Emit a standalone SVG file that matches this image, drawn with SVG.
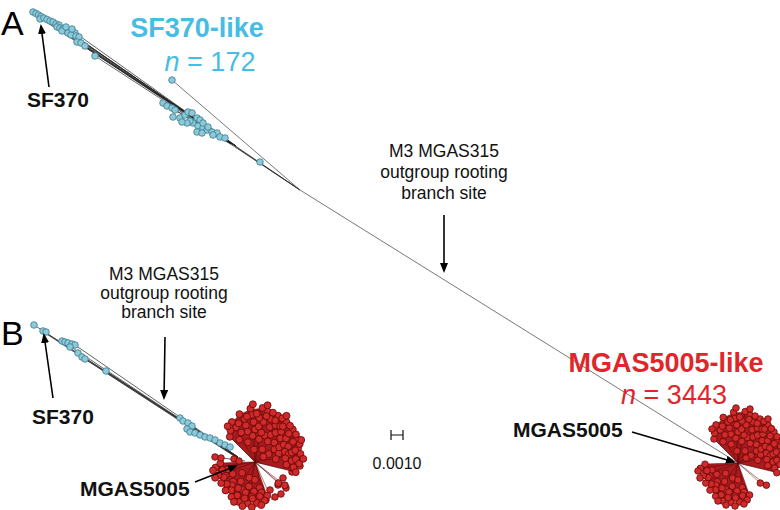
<svg xmlns="http://www.w3.org/2000/svg" width="780" height="510" viewBox="0 0 780 510">
<style>
text{font-family:"Liberation Sans",Arial,sans-serif}
.lbl{font-size:21px;font-weight:bold;fill:#111}
.note{font-size:17.5px;fill:#111;text-anchor:middle}
.panel{font-size:34px;fill:#000}
.blue{fill:#45bde4}
.red{fill:#e0262b}
.big{font-size:27px;text-anchor:middle}
.r{fill:#d02a2b;stroke:#650909;stroke-width:0.8}
.b{fill:#8ccadb;stroke:#3b7a8a;stroke-width:0.8}
.br{stroke:#222;stroke-width:0.7;fill:none}
.thin{stroke:#555;stroke-width:0.8;fill:none}
.arr{stroke:#000;stroke-width:1.6;fill:none;marker-end:url(#ah)}
.lobe{fill:#a81b1e;stroke:#7a0b0d;stroke-width:0.6}
.sp{stroke:#5c0808;stroke-width:0.5;fill:none}
</style>
<defs>
<marker id="ah" markerUnits="userSpaceOnUse" markerWidth="10" markerHeight="8" refX="8" refY="4" orient="auto"><path d="M0,0 L10,4 L0,8 z" fill="#000"/></marker>
<g id="cl">
<polygon class="lobe" points="0,0 -22,-22 -22,-37 -15,-45 -4,-50 7,-51 17,-46 26,-41 33,-34 39,-26 42,-17 43,-8 42,1 38,9"/>
<polygon class="lobe" points="0,0 11,31 9,36 1,38 -7,38 -15,37 -22,32 -28,26 -32,19 -34,12 -37,5 -33,1"/>
<path class="sp" d="M0,0L28.4,22.2M0,0L22.3,20.1M0,0L-24,-24M0,0L-22,-38M0,0L-4.4,-50.8M0,0L7.2,-51.5M0,0L26,-41.6M0,0L39,-26.3M0,0L43.3,-7.7M0,0L38.8,9.7M0,0L9.2,36.9M0,0L-7,39.4M0,0L-22.4,33.2M0,0L-34.8,12.7M0,0L-37.6,5.3M0,0L-2,-55M0,0L12,-54M0,0L44,-21M0,0L-12,42"/>
<g class="r">
<circle cx="-6.8" cy="-18.8" r="3.3"/><circle cx="-2.2" cy="-24.9" r="3.3"/><circle cx="3.8" cy="-21.7" r="3.3"/><circle cx="9.2" cy="-25.4" r="3.3"/><circle cx="12.2" cy="-19.5" r="3.3"/><circle cx="18.4" cy="-18.4" r="3.3"/><circle cx="18.5" cy="-12" r="3.3"/><circle cx="22.6" cy="-8.2" r="3.3"/><circle cx="19.8" cy="-2.8" r="3.3"/><circle cx="7" cy="-12.1" r="3.3"/><circle cx="13" cy="-7.5" r="3.3"/><circle cx="8" cy="-5" r="3.3"/><circle cx="-1" cy="-12" r="3.3"/><circle cx="23" cy="-14" r="3.3"/><circle cx="15" cy="-26" r="3.3"/><circle cx="6" cy="-28" r="3.3"/><circle cx="0" cy="-31" r="3.3"/><circle cx="-7" cy="-29" r="3.3"/>
<circle cx="-14.9" cy="-21.3" r="3.3"/><circle cx="-13.1" cy="-28.1" r="3.3"/><circle cx="-8.7" cy="-34.9" r="3.3"/><circle cx="-1.3" cy="-38" r="3.3"/><circle cx="3.6" cy="-33.8" r="3.3"/><circle cx="8.1" cy="-38.1" r="3.3"/><circle cx="14.1" cy="-33.2" r="3.3"/><circle cx="19.4" cy="-35" r="3.3"/><circle cx="19.5" cy="-27.8" r="3.3"/><circle cx="24.9" cy="-28.7" r="3.3"/><circle cx="24.1" cy="-22.5" r="3.3"/><circle cx="29.6" cy="-22.3" r="3.3"/><circle cx="27.4" cy="-16.5" r="3.3"/><circle cx="31.7" cy="-14.8" r="3.3"/><circle cx="28.4" cy="-9.8" r="3.3"/><circle cx="32.1" cy="-7.4" r="3.3"/><circle cx="28.8" cy="-3.5" r="3.3"/><circle cx="29.9" cy="2.6" r="3.3"/><circle cx="-18" cy="-33" r="3.3"/><circle cx="-10" cy="-41" r="3.3"/><circle cx="-3" cy="-45" r="3.3"/><circle cx="4" cy="-42" r="3.3"/><circle cx="12" cy="-48" r="3.3"/><circle cx="22" cy="-44" r="3.3"/><circle cx="30" cy="-38" r="3.3"/><circle cx="36" cy="-31" r="3.3"/><circle cx="40" cy="-22" r="3.3"/><circle cx="41" cy="-13" r="3.3"/><circle cx="35" cy="-9" r="3.3"/><circle cx="24" cy="-34" r="3.3"/><circle cx="15" cy="-41" r="3.3"/><circle cx="35" cy="-1" r="3.3"/>
<circle cx="-24" cy="-24" r="3.3"/><circle cx="-23.4" cy="-29.9" r="3.3"/><circle cx="-22" cy="-38.1" r="3.3"/><circle cx="-15.6" cy="-36.8" r="3.3"/><circle cx="-14.8" cy="-45.6" r="3.3"/><circle cx="-7.7" cy="-43.3" r="3.3"/><circle cx="-4.4" cy="-50.8" r="3.3"/><circle cx="1.6" cy="-46" r="3.3"/><circle cx="7.2" cy="-51.5" r="3.3"/><circle cx="10.9" cy="-43.7" r="3.3"/><circle cx="17.1" cy="-47" r="3.3"/><circle cx="19.3" cy="-39.6" r="3.3"/><circle cx="26" cy="-41.6" r="3.3"/><circle cx="26.5" cy="-33.9" r="3.3"/><circle cx="33.4" cy="-34.5" r="3.3"/><circle cx="32.2" cy="-27" r="3.3"/><circle cx="39" cy="-26.3" r="3.3"/><circle cx="36.2" cy="-19.2" r="3.3"/><circle cx="42.6" cy="-17.2" r="3.3"/><circle cx="38.4" cy="-11" r="3.3"/><circle cx="43.3" cy="-7.7" r="3.3"/><circle cx="38.9" cy="-2.7" r="3.3"/><circle cx="42" cy="1.5" r="3.3"/><circle cx="36.6" cy="5.1" r="3.3"/><circle cx="38.8" cy="9.7" r="3.3"/><circle cx="28.4" cy="22.2" r="3.3"/><circle cx="22.3" cy="20.1" r="3.3"/><circle cx="-2" cy="-55" r="3.3"/><circle cx="12" cy="-54" r="3.3"/><circle cx="30" cy="-44" r="3.3"/><circle cx="44" cy="-21" r="3.3"/><circle cx="46" cy="-3" r="3.3"/><circle cx="-26" cy="-34" r="3.3"/>
<circle cx="4.3" cy="24.6" r="3.3"/><circle cx="-1" cy="28" r="3.3"/><circle cx="-5.8" cy="23.3" r="3.3"/><circle cx="-12.3" cy="26.3" r="3.3"/><circle cx="-13.5" cy="18.6" r="3.3"/><circle cx="-20.8" cy="18.7" r="3.3"/><circle cx="-21.2" cy="11.3" r="3.3"/><circle cx="-26.1" cy="7" r="3.3"/><circle cx="-5.5" cy="15" r="3.3"/><circle cx="-12.3" cy="10.3" r="3.3"/><circle cx="0" cy="17" r="3.3"/><circle cx="-28" cy="13" r="3.3"/><circle cx="-22" cy="22" r="3.3"/><circle cx="-16" cy="25" r="3.3"/><circle cx="-9" cy="29" r="3.3"/><circle cx="-3" cy="33" r="3.3"/><circle cx="4" cy="36" r="3.3"/><circle cx="6" cy="29" r="3.3"/>
<circle cx="11.6" cy="32" r="3.3"/><circle cx="9.2" cy="36.9" r="3.3"/><circle cx="4.6" cy="32.7" r="3.3"/><circle cx="1.4" cy="39" r="3.3"/><circle cx="-2.4" cy="34.9" r="3.3"/><circle cx="-7" cy="39.4" r="3.3"/><circle cx="-9.9" cy="34.6" r="3.3"/><circle cx="-15.4" cy="38" r="3.3"/><circle cx="-16.9" cy="31.8" r="3.3"/><circle cx="-22.4" cy="33.2" r="3.3"/><circle cx="-22.5" cy="26.8" r="3.3"/><circle cx="-28" cy="27.1" r="3.3"/><circle cx="-26.8" cy="20.9" r="3.3"/><circle cx="-32.2" cy="20.1" r="3.3"/><circle cx="-29.7" cy="14.5" r="3.3"/><circle cx="-34.8" cy="12.7" r="3.3"/><circle cx="-31" cy="7.7" r="3.3"/><circle cx="-37.6" cy="5.3" r="3.3"/><circle cx="-33" cy="1.2" r="3.3"/><circle cx="-20" cy="38" r="3.3"/><circle cx="-12" cy="42" r="3.3"/><circle cx="-3" cy="43" r="3.3"/><circle cx="6" cy="41" r="3.3"/><circle cx="-38" cy="15" r="3.3"/><circle cx="-40" cy="8" r="3.3"/>
</g>
</g>
</defs>

<g id="panelA">
<g id="treeA-lines">
<path class="br" d="M33,12L228,141M38,15L228,141M40,18L230,142M45,19L228,141M51,21L230,142M57,24L229,142M65,29L230,143M74,32L230,143M85,47L231,144M95,56L232,145M60,28L229,142M70,33L231,143"/>
<path class="br" d="M163,103L236,146M175,110L236,146M180,118L236,146M197,118L236,146M212,132L236,146M225,138L236,146M228,141L300,190M232,145L300,190M236,147L300,190"/>
<path class="thin" d="M172,80L300,190M300,190L738,463"/>
</g>
<g id="treeA-blue" class="b">
<circle cx="33" cy="12" r="3.3"/><circle cx="36" cy="13.5" r="3.3"/><circle cx="38.5" cy="15" r="3.3"/><circle cx="41" cy="16.5" r="3.3"/><circle cx="40" cy="19" r="3.3"/><circle cx="44" cy="18" r="3.3"/><circle cx="47" cy="19.5" r="3.3"/><circle cx="50" cy="21" r="3.3"/><circle cx="53" cy="22" r="3.3"/><circle cx="56" cy="24" r="3.3"/><circle cx="59" cy="25" r="3.3"/>
<circle cx="57" cy="27" r="3.3"/><circle cx="60" cy="28" r="3.3"/><circle cx="63" cy="29" r="3.3"/><circle cx="66" cy="30" r="3.3"/><circle cx="69" cy="31" r="3.3"/><circle cx="72" cy="32" r="3.3"/><circle cx="75" cy="33" r="3.3"/><circle cx="62" cy="31" r="3.3"/><circle cx="68" cy="33" r="3.3"/><circle cx="71" cy="35" r="3.3"/><circle cx="76" cy="36" r="3.3"/><circle cx="79" cy="37" r="3.3"/><circle cx="66" cy="27" r="3.3"/><circle cx="72" cy="29" r="3.3"/>
<circle cx="77" cy="42" r="3.3"/><circle cx="81" cy="43" r="3.3"/><circle cx="85" cy="46" r="3.3"/><circle cx="95" cy="56" r="3.3"/>
<circle cx="163" cy="103" r="3.3"/><circle cx="167" cy="106" r="3.3"/><circle cx="172" cy="108" r="3.3"/><circle cx="175" cy="110" r="3.3"/><circle cx="173" cy="117" r="3.3"/><circle cx="180" cy="118" r="3.3"/><circle cx="185" cy="115" r="3.3"/><circle cx="188" cy="112" r="3.3"/><circle cx="192" cy="113" r="3.3"/><circle cx="197" cy="118" r="3.3"/><circle cx="200" cy="120" r="3.3"/><circle cx="193" cy="123" r="3.3"/><circle cx="198" cy="126" r="3.3"/><circle cx="203" cy="128" r="3.3"/><circle cx="207" cy="130" r="3.3"/><circle cx="212" cy="132" r="3.3"/><circle cx="217" cy="133" r="3.3"/><circle cx="220" cy="137" r="3.3"/><circle cx="225" cy="138" r="3.3"/><circle cx="190" cy="121" r="3.3"/><circle cx="187" cy="123" r="3.3"/><circle cx="203" cy="123" r="3.3"/><circle cx="208" cy="127" r="3.3"/><circle cx="197" cy="132" r="3.3"/><circle cx="202" cy="133" r="3.3"/><circle cx="213" cy="135" r="3.3"/><circle cx="182" cy="122" r="3.3"/>
<circle cx="172" cy="80" r="3.3"/><circle cx="260" cy="162" r="3.3"/>
</g>
<use href="#cl" transform="translate(738,463)"/>
</g>

<g id="panelB">
<g id="treeB-lines">
<path class="br" d="M34,325L238,457M43,331L238,457M45,333L237,458M62,341L238,457M75,345L238,457M85,359L238,458M106,371L238,458M180,418L238,458M215,457L245,461"/>
</g>
<g id="treeB-blue" class="b">
<circle cx="34" cy="325" r="3.3"/><circle cx="43" cy="331" r="3.3"/><circle cx="46" cy="332" r="3.3"/><circle cx="62" cy="341" r="3.3"/><circle cx="65" cy="342" r="3.3"/><circle cx="68" cy="343" r="3.3"/><circle cx="72" cy="344" r="3.3"/><circle cx="75" cy="345" r="3.3"/><circle cx="70" cy="347" r="3.3"/><circle cx="78" cy="353" r="3.3"/><circle cx="82" cy="357" r="3.3"/><circle cx="85" cy="359" r="3.3"/><circle cx="106" cy="371" r="3.3"/>
<circle cx="180" cy="418" r="3.3"/><circle cx="183" cy="421" r="3.3"/><circle cx="188" cy="423" r="3.3"/><circle cx="192" cy="426" r="3.3"/><circle cx="187" cy="429" r="3.3"/><circle cx="190" cy="432" r="3.3"/><circle cx="195" cy="433" r="3.3"/><circle cx="200" cy="435" r="3.3"/><circle cx="205" cy="437" r="3.3"/><circle cx="210" cy="438" r="3.3"/><circle cx="215" cy="440" r="3.3"/><circle cx="220" cy="443" r="3.3"/><circle cx="225" cy="445" r="3.3"/><circle cx="230" cy="447" r="3.3"/>
</g>
<g class="r"><path class="sp" d="M255,462L285,488M255,462L300,468M255,462L272,500"/><circle cx="270" cy="490" r="3.3"/><circle cx="278" cy="485" r="3.3"/><circle cx="283" cy="478" r="3.3"/><circle cx="275" cy="497" r="3.3"/><circle cx="266" cy="500" r="3.3"/><circle cx="286" cy="488" r="3.3"/><circle cx="292" cy="472" r="3.3"/><circle cx="300" cy="466" r="3.3"/><circle cx="296" cy="458" r="3.3"/><circle cx="262" cy="494" r="3.3"/><circle cx="281" cy="494" r="3.3"/></g>
<use href="#cl" transform="translate(255,462) scale(1.05)"/>
<g class="r"><circle cx="215" cy="457" r="3.3"/><circle cx="221" cy="458" r="3.3"/><circle cx="234" cy="459" r="3.3"/><circle cx="239" cy="461" r="3.3"/></g>
</g>

<g id="labels">
<text class="panel" x="1" y="35">A</text>
<text class="panel" x="1" y="345">B</text>
<text class="big blue" x="197" y="37" font-weight="bold" font-size="28.5">SF370-like</text>
<text class="big blue" x="210" y="71"><tspan font-style="italic">n</tspan> = 172</text>
<text class="big red" x="666" y="372" font-weight="bold">MGAS5005-like</text>
<text class="big red" x="674" y="404" font-size="28.5"><tspan font-style="italic">n</tspan> = 3443</text>
<text class="lbl" x="27" y="107">SF370</text>
<text class="lbl" x="32" y="424">SF370</text>
<text class="lbl" x="513" y="437">MGAS5005</text>
<text class="lbl" x="80" y="496">MGAS5005</text>
<text class="note" x="444" y="157">M3 MGAS315<tspan x="444" dy="21">outgroup rooting</tspan><tspan x="444" dy="21">branch site</tspan></text>
<text class="note" x="164" y="280">M3 MGAS315<tspan x="164" dy="19">outgroup rooting</tspan><tspan x="164" dy="19">branch site</tspan></text>
<text x="397" y="469" font-size="16" text-anchor="middle" fill="#111">0.0010</text>
</g>

<g id="connectors">
<path class="arr" d="M49,87L41,26"/>
<path class="arr" d="M53,398L44,335"/>
<path class="arr" d="M444,215L444,271"/>
<path class="arr" d="M165,337L164,398"/>
<path class="arr" d="M632,432L734,462"/>
<path class="arr" d="M195,482L236,466"/>
<path d="M391,435H403M391,430V440M403,430V440" stroke="#111" stroke-width="1.2" fill="none"/>
</g>
</svg>
